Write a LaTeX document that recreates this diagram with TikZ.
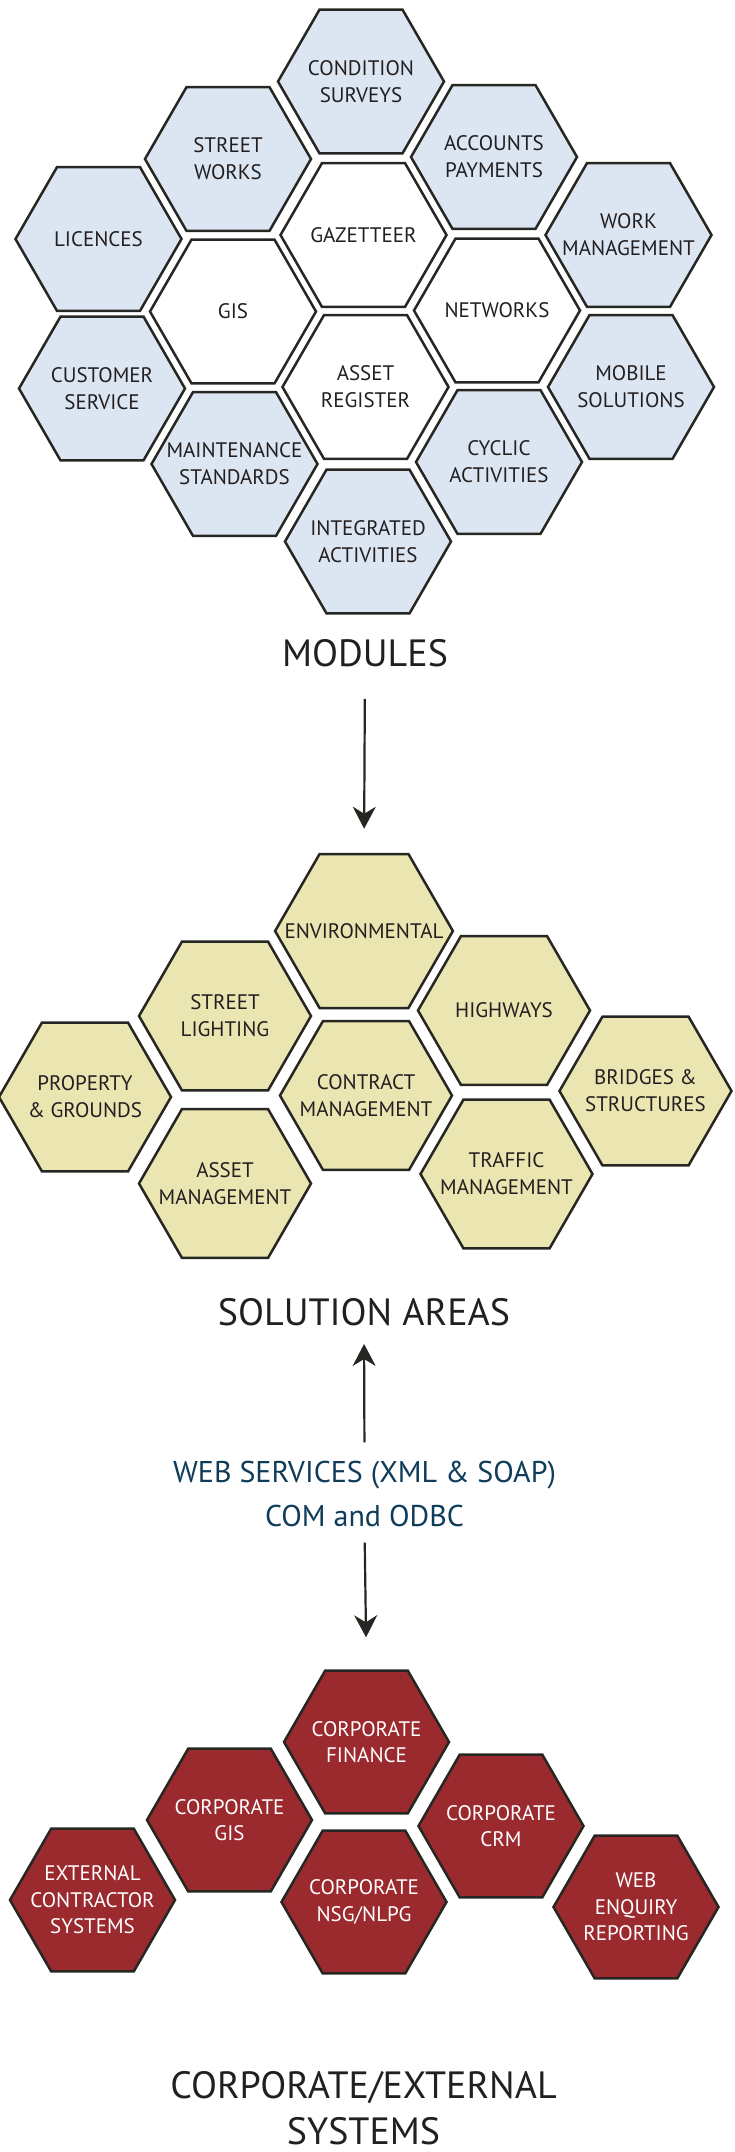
\documentclass[tikz,border=0pt]{standalone}
\usepackage{xcolor}
\usepackage{fontspec}
\setmainfont{PT Sans}
\usepackage{tikz}
\usetikzlibrary{shapes.geometric, arrows.meta}

\definecolor{hexline}{RGB}{38,38,34}
\definecolor{modfill}{RGB}{220,230,242}
\definecolor{solfill}{RGB}{235,229,178}
\definecolor{corpfill}{RGB}{155,42,47}
\definecolor{webblue}{RGB}{14,60,90}
\definecolor{ink}{RGB}{35,31,32}

\begin{document}
\begin{tikzpicture}[x=1pt, y=-1pt, every node/.style={text=ink}]
	\useasboundingbox (0, 0) rectangle (734, 2152);

	\begin{scope}[
		hexa/.style={align=center, draw=hexline, regular polygon, regular polygon sides=6, line width=2.5pt, inner sep=-25pt, font=\fontsize{21}{27}\selectfont},
		mod/.style={hexa, fill=modfill, minimum size=166pt},
		core/.style={hexa, fill=white, minimum size=166pt}]
		\node[mod] (M1) at (361, 81.5) {CONDITION\\SURVEYS};
		\node[mod] (M2) at (228, 159) {STREET\\WORKS};
		\node[mod] (M3) at (494, 157) {ACCOUNTS\\PAYMENTS};
		\node[mod] (M4) at (98.5, 239) {LICENCES};
		\node[core] (M5) at (363.5, 235) {GAZETTEER};
		\node[mod] (M6) at (628.5, 235) {WORK\\MANAGEMENT};
		\node[core] (M7) at (233, 311.5) {GIS};
		\node[core] (M8) at (497, 310.5) {NETWORKS};
		\node[mod] (M9) at (102, 388.5) {CUSTOMER\\SERVICE};
		\node[core] (M10) at (365.5, 387) {ASSET\\REGISTER};
		\node[mod] (M11) at (631, 387) {MOBILE\\SOLUTIONS};
		\node[mod] (M12) at (234.5, 464) {MAINTENANCE\\STANDARDS};
		\node[mod] (M13) at (499, 462) {CYCLIC\\ACTIVITIES};
		\node[mod] (M14) at (368, 541.5) {INTEGRATED\\ACTIVITIES};
	\end{scope}

	\begin{scope}[
		hexa/.style={align=center, draw=hexline, fill=solfill, regular polygon, regular polygon sides=6, line width=2.5pt, inner sep=-25pt, minimum size=172pt, font=\fontsize{21}{27}\selectfont}]
		\node[hexa] (S1) at (364, 931) {ENVIRONMENTAL};
		\node[hexa] (S2) at (225, 1016) {STREET\\LIGHTING};
		\node[hexa] (S3) at (504, 1010.5) {HIGHWAYS};
		\node[hexa] (S4) at (85, 1097) {PROPERTY\\\& GROUNDS};
		\node[hexa] (S5) at (366, 1095.5) {CONTRACT\\MANAGEMENT};
		\node[hexa] (S6) at (645.5, 1091) {BRIDGES \&\\STRUCTURES};
		\node[hexa] (S7) at (225, 1183.5) {ASSET\\MANAGEMENT};
		\node[hexa] (S8) at (506.5, 1174) {TRAFFIC\\MANAGEMENT};
	\end{scope}

	\begin{scope}[
		hexa/.style={align=center, draw=hexline, fill=corpfill, text=white, regular polygon, regular polygon sides=6, line width=2.5pt, inner sep=-25pt, minimum size=165pt, font=\fontsize{21}{26.5}\selectfont}]
		\node[hexa] (C1) at (366.5, 1742) {CORPORATE\\FINANCE};
		\node[hexa] (C2) at (229.5, 1820) {CORPORATE\\GIS};
		\node[hexa] (C3) at (501, 1826) {CORPORATE\\CRM};
		\node[hexa] (C4) at (92.5, 1900) {EXTERNAL\\CONTRACTOR\\SYSTEMS};
		\node[hexa] (C5) at (364, 1902) {CORPORATE\\NSG/NLPG};
		\node[hexa] (C6) at (636, 1907) {WEB\\ENQUIRY\\REPORTING};
	\end{scope}

	\begin{scope}[
		title/.style={align=center, inner sep=0pt, font=\fontsize{38}{46}\selectfont}]
		\node[title] (T1) at (365, 653) {MODULES};
		\node[title] (T2) at (364, 1312) {SOLUTION AREAS};
		\node[title] (T3) at (363.5, 2108) {CORPORATE/EXTERNAL\\SYSTEMS};
		\node[align=center, inner sep=0pt, text=webblue, font=\fontsize{30}{44}\selectfont] (W) at (364.5, 1493.5) {WEB SERVICES (XML \& SOAP)\\COM and ODBC};
	\end{scope}

	\draw[-{Stealth[length=22pt, width=23pt, inset=7pt]}, line width=2.2pt, draw=hexline, fill=hexline, shorten <=32pt, shorten >=24pt] (T1.south) -- (S1.north);
	\draw[-{Stealth[length=22pt, width=23pt, inset=7pt]}, line width=2.2pt, draw=hexline, fill=hexline, shorten <=18pt, shorten >=18pt] (W.north) -- (T2.south);
	\draw[-{Stealth[length=22pt, width=23pt, inset=7pt]}, line width=2.2pt, draw=hexline, fill=hexline, shorten <=16pt, shorten >=32pt] (W.south) -- (C1.north);
\end{tikzpicture}
\end{document}
